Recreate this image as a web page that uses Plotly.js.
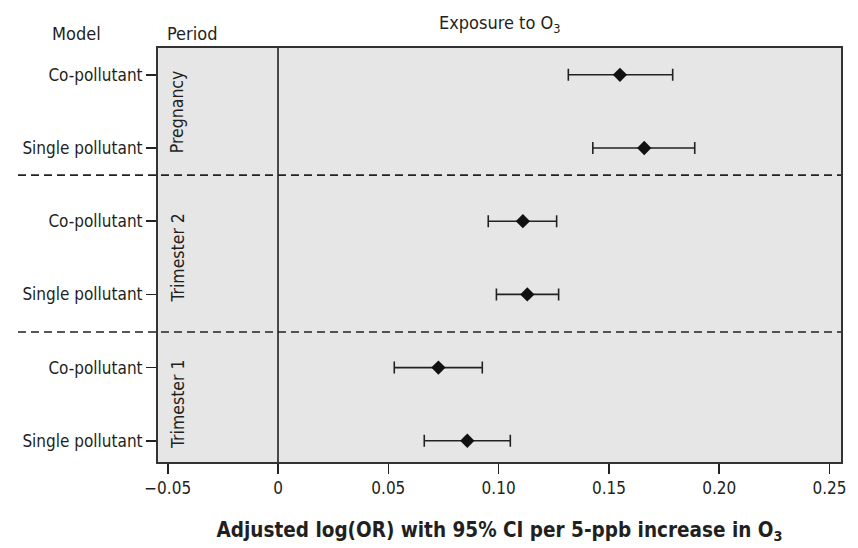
<!DOCTYPE html>
<html>
<head>
<meta charset="utf-8">
<script src="https://cdn.plot.ly/plotly-3.0.1.min.js"></script>
<style>html,body{margin:0;padding:0;background:#fff;}#chart{width:858px;height:548px;}</style>
</head>
<body>
<div id="chart"></div>
<script>
// ---- data ----
const periods = ["Pregnancy", "Pregnancy", "Trimester 2", "Trimester 2", "Trimester 1", "Trimester 1"];
const models = ["Co-pollutant", "Single pollutant", "Co-pollutant", "Single pollutant", "Co-pollutant", "Single pollutant"];
const estimate = [0.155, 0.166, 0.111, 0.113, 0.0727, 0.0858];
const ciLow = [0.1316, 0.1427, 0.0953, 0.0990, 0.0527, 0.0663];
const ciHigh = [0.1789, 0.1889, 0.1263, 0.1272, 0.0926, 0.1053];
const xTickVals = [-0.05, 0, 0.05, 0.10, 0.15, 0.20, 0.25];
const xTickText = ["\u22120.05", "0", "0.05", "0.10", "0.15", "0.20", "0.25"];

const FONT = '"Liberation Sans Narrow", "DejaVu Sans Condensed", "Roboto Condensed", sans-serif';
const TXT = '#231f20';

const rows = models.map((_, i) => i);
const trace = {
  type: 'scatter', mode: 'markers',
  x: estimate, y: rows,
  marker: {symbol: 'diamond', size: 11, color: '#111'},
  error_x: {
    type: 'data', symmetric: false,
    array: estimate.map((v, i) => ciHigh[i] - v),
    arrayminus: estimate.map((v, i) => v - ciLow[i]),
    color: '#222', thickness: 1.6, width: 6
  },
  hoverinfo: 'skip', showlegend: false
};

// period group annotations (centered on their rows)
const uniquePeriods = [...new Set(periods)];
const periodAnn = uniquePeriods.map(p => {
  const idx = rows.filter(i => periods[i] === p);
  const c = idx.reduce((a, b) => a + b, 0) / idx.length;
  return {xref: 'paper', yref: 'y', x: 0.029, y: c, xanchor: 'center', yanchor: 'middle',
    text: p, textangle: -90, showarrow: false, font: {family: FONT, size: 17.5, color: TXT}};
});

const layout = {
  width: 858, height: 548,
  margin: {l: 158, r: 17, t: 48, b: 86},
  paper_bgcolor: '#ffffff', plot_bgcolor: '#e6e6e6',
  font: {family: FONT, color: TXT, size: 16},
  xaxis: {
    range: [-0.0544, 0.2552], tickvals: xTickVals, ticktext: xTickText,
    ticks: 'outside', ticklen: 10, tickwidth: 1.6, tickcolor: '#222',
    showgrid: false, zeroline: false, showline: true, linecolor: '#333', linewidth: 2, mirror: true,
    tickfont: {family: FONT, size: 17, color: TXT},
    title: {text: 'Adjusted log(OR) with 95% CI per 5-ppb increase in O<sub>3</sub>',
      font: {family: FONT, size: 20.5, color: TXT, weight: 'bold'}, standoff: 25}
  },
  yaxis: {
    range: [5.29, -0.366], tickvals: rows, ticktext: models,
    ticks: 'outside', ticklen: 10, tickwidth: 1.6, tickcolor: '#222',
    showgrid: false, zeroline: false, showline: true, linecolor: '#333', linewidth: 2, mirror: true,
    tickfont: {family: FONT, size: 17, color: TXT}
  },
  shapes: [
    {type: 'line', xref: 'x', yref: 'paper', x0: 0, x1: 0, y0: 0, y1: 1, line: {color: '#222', width: 1.6}},
    {type: 'line', xref: 'paper', yref: 'paper', x0: -0.205, x1: 1, y0: 0.693, y1: 0.693, line: {color: '#222', width: 1.6, dash: '8px,5px'}},
    {type: 'line', xref: 'paper', yref: 'paper', x0: -0.205, x1: 1, y0: 0.314, y1: 0.314, line: {color: '#222', width: 1.6, dash: '8px,5px'}}
  ],
  annotations: periodAnn.concat([
    {xref: 'paper', yref: 'paper', x: -0.1186, y: 1.036, xanchor: 'center', yanchor: 'middle', text: 'Model', showarrow: false, font: {family: FONT, size: 18, color: TXT}},
    {xref: 'paper', yref: 'paper', x: 0.0498, y: 1.036, xanchor: 'center', yanchor: 'middle', text: 'Period', showarrow: false, font: {family: FONT, size: 18, color: TXT}},
    {xref: 'paper', yref: 'paper', x: 0.5, y: 1.058, xanchor: 'center', yanchor: 'middle', text: 'Exposure to O<sub>3</sub>', showarrow: false, font: {family: FONT, size: 18, color: TXT}}
  ])
};

Plotly.newPlot('chart', [trace], layout, {displayModeBar: false, staticPlot: true});
</script>
</body>
</html>
